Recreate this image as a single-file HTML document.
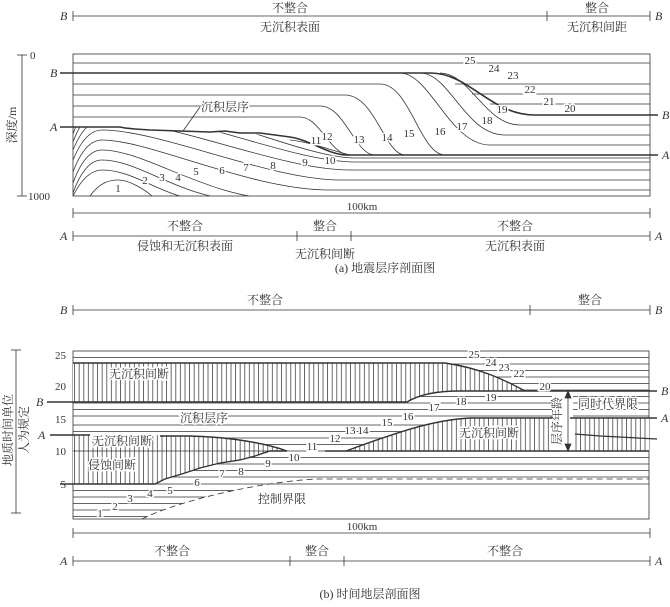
<!DOCTYPE html>
<html><head><meta charset="utf-8"><style>
html,body{margin:0;padding:0;background:#fff;}
svg{display:block;}
text{font-family:"Liberation Serif","Noto Serif CJK SC","Noto Sans CJK SC",serif;fill:#333;}
.c{font-size:12px;}
.n{font-size:11px;}
.l{font-size:12px;font-style:italic;}
.w{paint-order:stroke;stroke:#fff;stroke-width:3px;}
</style></head><body>
<svg width="670" height="607" viewBox="0 0 670 607" xmlns="http://www.w3.org/2000/svg">
<defs>
<pattern id="h" width="4.6" height="10" patternUnits="userSpaceOnUse"><line x1="1" y1="0" x2="1" y2="10" stroke="#444" stroke-width="0.8"/></pattern>
<clipPath id="belowA"><path d="M73 127 H120 L180 131 L240 133 L290 137 C310 140 325 153 345 155 H650 V196 H73 Z"/></clipPath>
<clipPath id="boxA"><rect x="73" y="54" width="577" height="142"/></clipPath>
<clipPath id="ctrl"><path d="M73 479 H316 C260 482 180 500 142 519 H73 Z"/></clipPath>
</defs>
<g stroke="#333" fill="none" stroke-width="0.8">
<line x1="73" y1="16" x2="650" y2="16"/><line x1="73" y1="11" x2="73" y2="21"/><line x1="547" y1="11" x2="547" y2="21"/><line x1="650" y1="11" x2="650" y2="21"/>
<line x1="22" y1="55" x2="22" y2="196"/><line x1="17" y1="55" x2="27" y2="55"/><line x1="17" y1="196" x2="27" y2="196"/>
<rect x="73" y="54" width="577" height="142"/>
<line x1="73" y1="63" x2="650" y2="63"/>
<path d="M455 84 H650 M472 94 H650 M490 104 H650"/>
<g clip-path="url(#boxA)">
<path d="M73 84 H380 C410 84 420 155 445 155"/>
<path d="M73 95 H345 C375 95 385 155 405 155"/>
<path d="M73 106 H320 C345 106 355 155 375 155"/>
<path d="M73 117 H300 C320 117 330 155 350 155"/>
<path d="M400 73 C430 73 450 145 490 145 H650"/>
<path d="M420 73 C450 73 465 135 505 135 H650"/>
<path d="M440 73 C470 73 485 125 520 125 H650"/>
<path d="M290 140 C310 142 330 150 350 155"/>
</g>
<g clip-path="url(#belowA)">
<path d="M90 196 C100 182 110 180 118 180 C130 180 145 190 152 196"/>
<path d="M73 196 C82 178 92 170 102 170 C135 170 160 196 200 200"/>
<path d="M73 193 C82 168 92 160 102 160 C140 160 180 198 240 200"/>
<path d="M73 183 C82 158 92 150 102 150 C145 150 210 199 280 199"/>
<path d="M73 172 C82 148 92 140 102 140 C150 140 250 190 330 190 H650"/>
<path d="M73 160 C82 138 92 130 102 130 C160 130 270 180 340 180 H650"/>
<path d="M73 150 C82 128 92 120 102 120 C170 120 280 170 350 170 H650"/>
<path d="M73 142 C82 118 92 110 102 110 C180 110 290 162 355 162 H650"/>
<path d="M73 134 C82 108 92 100 102 100 C190 100 300 158 355 158 H650"/>
</g>
<path d="M60 73 H430 C470 73 490 115 535 115 H658" stroke-width="1.6"/>
<path d="M60 127 H120 L125 128 L135 129 L150 130 L180 131 L210 132 L225 131 L240 133 L260 133 L290 137 C310 140 325 153 345 155 H658" stroke-width="1.6"/>
<path d="M200 107 L183 131"/>
<line x1="73" y1="213" x2="650" y2="213"/><line x1="73" y1="208" x2="73" y2="218"/><line x1="650" y1="208" x2="650" y2="218"/>
<line x1="73" y1="236" x2="650" y2="236"/><line x1="73" y1="231" x2="73" y2="241"/><line x1="297" y1="231" x2="297" y2="241"/><line x1="351" y1="231" x2="351" y2="241"/><line x1="650" y1="231" x2="650" y2="241"/>
<line x1="73" y1="310" x2="650" y2="310"/><line x1="73" y1="305" x2="73" y2="315"/><line x1="530" y1="305" x2="530" y2="315"/><line x1="650" y1="305" x2="650" y2="315"/>
<line x1="16" y1="350" x2="16" y2="513"/><line x1="11" y1="350" x2="21" y2="350"/><line x1="11" y1="513" x2="21" y2="513"/>
<rect x="73" y="351" width="576" height="168"/>
<g stroke-width="0.7">
<path d="M73 357.5H649 M73 364H649 M73 370.5H649 M73 377H649 M73 383.5H649 M73 390H649 M73 396.5H649 M73 403H649 M73 409.5H649 M73 416H649 M73 425H649 M73 431.5H649 M73 438H649 M73 444.5H649 M73 451H649 M73 457.5H649 M73 464H649 M73 470.5H649 M73 477H649 M73 484H649"/>
<g clip-path="url(#ctrl)"><path d="M73 490.5H400 M73 497H400 M73 503.5H400 M73 510H400 M73 516.5H400"/></g>
</g>
<path d="M73 363 H445 C480 368 505 380 525 391 H460 C440 391 420 394 407 402 H73 Z" fill="#fff" stroke="none"/>
<path d="M73 363 H445 C480 368 505 380 525 391 H460 C440 391 420 394 407 402 H73 Z" fill="url(#h)" stroke="none"/>
<path d="M73 435 H160 L190 436 C230 437 265 443 287 451 L270 451 L255 456 L240 460 L220 463 L200 468 L185 473 L165 479 L155 484 H73 Z" fill="#fff" stroke="none"/>
<path d="M73 435 H160 L190 436 C230 437 265 443 287 451 L270 451 L255 456 L240 460 L220 463 L200 468 L185 473 L165 479 L155 484 H73 Z" fill="url(#h)" stroke="none"/>
<path d="M346 451 C390 435 430 420 470 418 H552 V451 Z" fill="#fff" stroke="none"/>
<path d="M346 451 C390 435 430 420 470 418 H552 V451 Z" fill="url(#h)" stroke="none"/>
<path d="M573 418 H649 V451 H573 Z" fill="#fff" stroke="none"/>
<path d="M573 418 H649 V451 H573 Z" fill="url(#h)" stroke="none"/>
<line x1="73" y1="451" x2="287" y2="451" stroke-width="0.7"/>
<rect x="552" y="393" width="21" height="57" fill="#fff" stroke="none"/>
<path d="M73 363 H445 C480 368 505 380 525 391" stroke-width="1.4"/>
<path d="M47 402 H407 C420 394 440 391 460 391 H657" stroke-width="1.4"/>
<path d="M50 435 H90 M160 436 L190 436 C230 437 265 443 287 451" stroke-width="1.4"/>
<path d="M60 484 H155 L165 479 L185 473 L200 468 L220 463 L240 460 L255 456 L270 451 L287 451" stroke-width="1.4"/>
<path d="M325 451 H649" stroke-width="1.4"/>
<path d="M346 451 C390 435 430 420 470 418 H552 M570 418 H657" stroke-width="1.4"/>
<path d="M575 434 L600 436 L657 439" stroke-width="1.2"/>
<path d="M142 519 C180 500 260 482 316 479 H649" stroke-dasharray="6 4"/>
<line x1="568" y1="393" x2="568" y2="449"/>
<path d="M565 398 L568 391 L571 398 Z M565 444 L568 451 L571 444 Z" fill="#333"/>
<line x1="73" y1="533" x2="650" y2="533"/><line x1="73" y1="528" x2="73" y2="538"/><line x1="650" y1="528" x2="650" y2="538"/>
<line x1="73" y1="561" x2="650" y2="561"/><line x1="73" y1="556" x2="73" y2="566"/><line x1="290" y1="556" x2="290" y2="566"/><line x1="344" y1="556" x2="344" y2="566"/><line x1="650" y1="556" x2="650" y2="566"/>
</g>
<g class="c" text-anchor="middle">
<text x="290" y="12">不整合</text><text x="290" y="31">无沉积表面</text>
<text x="597" y="12">整合</text><text x="597" y="31">无沉积间距</text>
<text x="362" y="210" class="n">100km</text>
<text x="185" y="230">不整合</text><text x="325" y="230">整合</text><text x="515" y="230">不整合</text>
<text x="185" y="250">侵蚀和无沉积表面</text><text x="325" y="258">无沉积间断</text><text x="515" y="250">无沉积表面</text>
<text x="385" y="272">(a) 地震层序剖面图</text>
<text x="265" y="304">不整合</text><text x="590" y="304">整合</text>
<text x="362" y="530" class="n">100km</text>
<text x="172" y="555">不整合</text><text x="317" y="555">整合</text><text x="505" y="555">不整合</text>
<text x="370" y="598">(b) 时间地层剖面图</text>
</g>
<g class="l"><text x="60" y="20">B</text><text x="655" y="20">B</text>
<text x="50" y="77">B</text><text x="662" y="119">B</text><text x="50" y="131">A</text><text x="662" y="159">A</text>
<text x="60" y="240">A</text><text x="655" y="240">A</text>
<text x="60" y="314">B</text><text x="655" y="314">B</text>
<text x="36" y="406">B</text><text x="661" y="395">B</text><text x="38" y="439">A</text><text x="661" y="422">A</text>
<text x="60" y="565">A</text><text x="655" y="565">A</text></g>
<g class="n"><text x="30" y="59">0</text><text x="28" y="200">1000</text>
<text x="66" y="359" text-anchor="end">25</text><text x="66" y="390" text-anchor="end">20</text><text x="66" y="423" text-anchor="end">15</text><text x="66" y="455" text-anchor="end">10</text><text x="66" y="488" text-anchor="end">5</text></g>
<text class="c" transform="translate(16,125) rotate(-90)" text-anchor="middle">深度/m</text>
<text class="c" transform="translate(12,430) rotate(-90)" text-anchor="middle">地质时间单位</text>
<text class="c" transform="translate(28,430) rotate(-90)" text-anchor="middle">人为规定</text>
<g class="n w" text-anchor="middle">
<text x="470" y="64">25</text><text x="494" y="72">24</text><text x="513" y="79">23</text><text x="530" y="93">22</text><text x="549" y="105">21</text><text x="570" y="112">20</text>
<text x="502" y="113">19</text><text x="487" y="124">18</text><text x="462" y="130">17</text><text x="440" y="135">16</text><text x="409" y="137">15</text><text x="387" y="141">14</text><text x="359" y="143">13</text><text x="327" y="140">12</text><text x="316" y="144">11</text>
<text x="118" y="192">1</text><text x="145" y="184">2</text><text x="162" y="181">3</text><text x="178" y="181">4</text><text x="196" y="175">5</text><text x="222" y="174">6</text><text x="246" y="171">7</text><text x="273" y="169">8</text><text x="305" y="166">9</text><text x="330" y="164">10</text>
<text x="474" y="358">25</text><text x="491" y="366">24</text><text x="504" y="371">23</text><text x="519" y="377">22</text><text x="545" y="390">20</text>
<text x="491" y="401">19</text><text x="461" y="405">18</text><text x="434" y="411">17</text><text x="408" y="420">16</text><text x="387" y="426">15</text><text x="363" y="434">14</text><text x="350" y="434">13</text><text x="335" y="442">12</text><text x="312" y="450">11</text>
<text x="294" y="461">10</text><text x="268" y="467">9</text><text x="241" y="475">8</text><text x="222" y="477">7</text><text x="197" y="486">6</text><text x="170" y="494">5</text><text x="150" y="497">4</text><text x="130" y="502">3</text><text x="115" y="510">2</text><text x="100" y="517">1</text>
</g>
<g class="c w">
<text x="201" y="111">沉积层序</text>
<text x="109" y="378">无沉积间断</text>
<text x="180" y="422">沉积层序</text>
<text x="92" y="445">无沉积间断</text>
<text x="88" y="469">侵蚀间断</text>
<text x="459" y="437">无沉积间断</text>
<text x="258" y="503">控制界限</text>
<text x="578" y="408">同时代界限</text>
</g>
<text class="c" transform="translate(561,421) rotate(-90)" text-anchor="middle">层序年龄</text>
</svg>
</body></html>
